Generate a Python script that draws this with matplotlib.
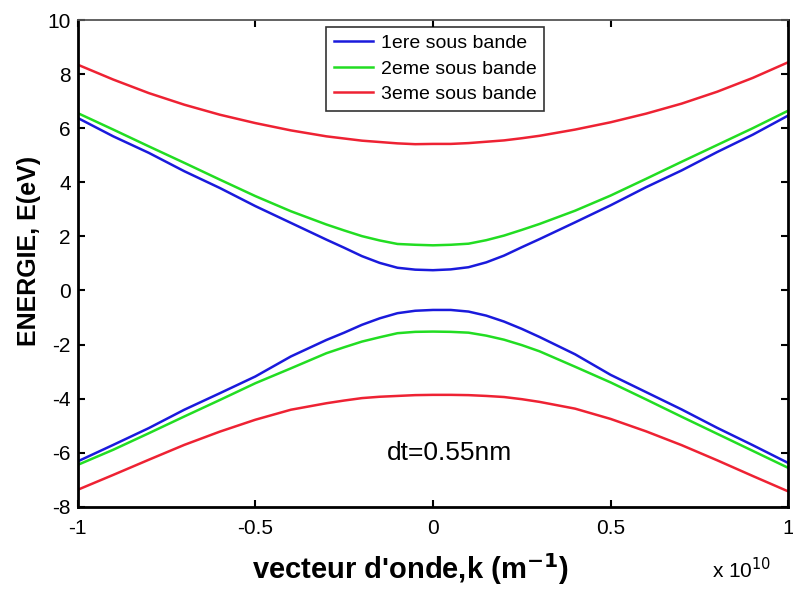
import numpy as np
import matplotlib.pyplot as plt

plt.rcParams['font.family'] = ['Liberation Sans', 'DejaVu Sans']
plt.rcParams['axes.unicode_minus'] = False

# wave vector k, in units of 1e10 m^-1
k = [-1.0, -0.9, -0.8, -0.7, -0.6, -0.5, -0.4, -0.3, -0.25, -0.2, -0.15, -0.1, -0.05, 0.0,
     0.05, 0.1, 0.15, 0.2, 0.25, 0.3, 0.4, 0.5, 0.6, 0.7, 0.8, 0.9, 1.0]

# energies (eV)
band1_up = [6.38, 5.70, 5.09, 4.41, 3.79, 3.12, 2.50, 1.88, 1.58, 1.27, 1.02, 0.84, 0.77, 0.75,
            0.78, 0.86, 1.04, 1.29, 1.60, 1.90, 2.52, 3.15, 3.82, 4.44, 5.12, 5.76, 6.47]
band2_up = [6.56, 5.95, 5.33, 4.72, 4.10, 3.49, 2.93, 2.44, 2.22, 2.01, 1.85, 1.72, 1.69, 1.67,
            1.69, 1.73, 1.86, 2.03, 2.24, 2.46, 2.95, 3.51, 4.13, 4.76, 5.38, 6.00, 6.65]
band3_up = [8.35, 7.80, 7.30, 6.87, 6.50, 6.19, 5.92, 5.70, 5.62, 5.54, 5.49, 5.44, 5.41, 5.42,
            5.42, 5.45, 5.50, 5.55, 5.63, 5.72, 5.95, 6.22, 6.54, 6.91, 7.35, 7.86, 8.44]
band1_lo = [-6.32, -5.71, -5.09, -4.41, -3.80, -3.18, -2.44, -1.83, -1.56, -1.27, -1.03, -0.84, -0.75, -0.72,
            -0.72, -0.78, -0.93, -1.15, -1.42, -1.72, -2.36, -3.12, -3.76, -4.40, -5.08, -5.72, -6.38]
band2_lo = [-6.45, -5.89, -5.28, -4.66, -4.05, -3.43, -2.88, -2.32, -2.10, -1.89, -1.73, -1.58, -1.53, -1.52,
            -1.53, -1.56, -1.67, -1.82, -2.02, -2.25, -2.82, -3.40, -4.03, -4.67, -5.30, -5.93, -6.56]
band3_lo = [-7.37, -6.82, -6.26, -5.71, -5.22, -4.78, -4.41, -4.17, -4.07, -3.98, -3.93, -3.90, -3.87, -3.86,
            -3.86, -3.87, -3.90, -3.94, -4.02, -4.12, -4.37, -4.75, -5.21, -5.72, -6.28, -6.86, -7.43]

labels = ["1ere sous bande", "2eme sous bande", "3eme sous bande"]
colors = ["#1a1adc", "#22dd22", "#ee2233"]

fig = plt.figure(figsize=(7.93, 5.90), dpi=100)
ax = fig.add_axes([0.098, 0.141, 0.896, 0.825])

ups = [band1_up, band2_up, band3_up]
los = [band1_lo, band2_lo, band3_lo]
for up, lo, c, lab in zip(ups, los, colors, labels):
  ax.plot(k, up, color=c, lw=1.8, label=lab)
  ax.plot(k, lo, color=c, lw=1.8)

ax.set_xlim(-1, 1)
ax.set_ylim(-8, 10)
ax.set_xticks([-1, -0.5, 0, 0.5, 1])
ax.set_xticklabels(["-1", "-0.5", "0", "0.5", "1"])
ax.set_yticks(range(-8, 11, 2))
ax.tick_params(direction='in', top=True, right=True, length=5, width=1.5,
               labelsize=15)
ax.tick_params(axis='x', pad=9)
ax.tick_params(axis='y', pad=5)
for s in ax.spines.values():
  s.set_linewidth(2)
ax.spines['top'].set_color('#555555')
ax.spines['top'].set_linewidth(1.3)

ax.set_ylabel("ENERGIE, E(eV)", fontsize=18, fontweight='bold')
ax.yaxis.set_label_coords(-0.052, 0.526)
ax.set_xlabel("vecteur d'onde,k (m$^{\\mathbf{-1}}$)", fontsize=21, fontweight='bold')
ax.xaxis.set_label_coords(0.468, -0.09)
fig.text(0.898, 0.02, "x 10$^{10}$", fontsize=15)

ax.text(-0.13, -6.0, "dt=0.55nm", fontsize=19, va='center')

leg = ax.legend(loc='upper center', bbox_to_anchor=(0.503, 0.986), fontsize=14,
                frameon=True, fancybox=False, edgecolor='black', borderaxespad=0,
                handlelength=2.0, handletextpad=0.4, borderpad=0.4, labelspacing=0.4)
leg.get_frame().set_linewidth(1.2)

fig.savefig("out.png", dpi=100)
